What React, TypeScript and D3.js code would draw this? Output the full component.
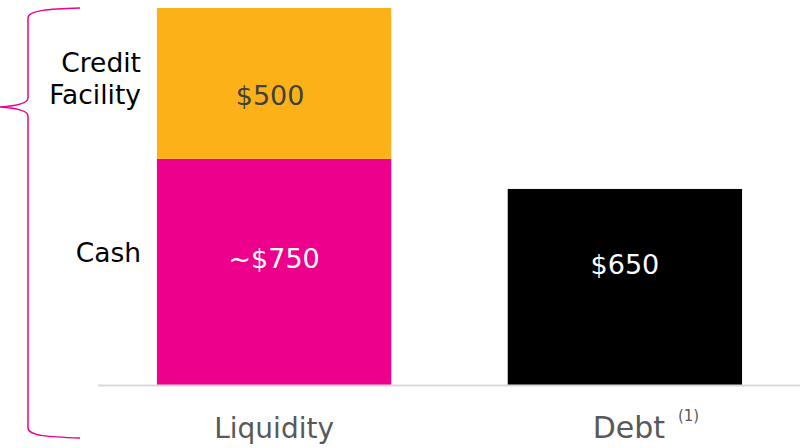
import React from "react";
import * as d3 from "d3";

const categories = ["Liquidity", "Debt"];
const cashValues = [750, 0];
const creditValues = [500, 0];
const debtValues = [0, 650];
const valueLabels = ["$500", "~$750", "$650"];
const rowLabels = ["Credit", "Facility", "Cash"];

const W = 810;
const H = 448;
const FONT = "'DejaVu Sans', sans-serif";
const PINK = "#EC008C";
const ORANGE = "#FDB118";

export default function App() {
  const x = d3
    .scaleBand<string>()
    .domain(categories)
    .range([98, 801])
    .paddingInner(0.332)
    .paddingOuter(0.168);
  const y = d3.scaleLinear().domain([0, 1250]).range([385, 8]);
  const bw = x.bandwidth();

  const liq = categories[0];
  const debt = categories[1];
  const cash = cashValues[0];
  const credit = creditValues[0];
  const dv = debtValues[1];

  const yTop = y(cash + credit);
  const yMid = y(cash);
  const yBase = y(0);

  const bracePath = `M80,${yTop} C50,${yTop + 1} 28,${yTop + 2} 28,${yTop + 10} L28,${yTop + 90} C28,${yTop + 96} 15,${yTop + 98} 0,${yTop + 99} C15,${yTop + 100} 28,${yTop + 102} 28,${yTop + 108} L28,${yBase + 43} C28,${yBase + 51} 50,${yBase + 52} 80,${yBase + 53}`;

  const lcx = (x(liq) as number) + bw / 2;
  const dcx = (x(debt) as number) + bw / 2;

  return (
    <svg
      width={W}
      height={H}
      style={{ position: "absolute", left: 0, top: 0, background: "#fff" }}
      fontFamily={FONT}
    >
      <path d={bracePath} fill="none" stroke={PINK} strokeWidth={1.5} />
      {/* bars */}
      <rect x={x(liq)} y={yMid} width={bw} height={yBase - yMid} fill={PINK} />
      <rect x={x(liq)} y={yTop} width={bw} height={yMid - yTop} fill={ORANGE} />
      <rect x={x(debt)} y={y(dv)} width={bw} height={yBase - y(dv)} fill="#000" />
      {/* baseline */}
      <line x1={98} x2={800} y1={yBase + 0.5} y2={yBase + 0.5} stroke="#d9d9d9" strokeWidth={2} />
      {/* value labels */}
      <text x={lcx - 4} y={(yTop + yMid) / 2 + 22} textAnchor="middle" fontSize={27} fill="#404040">
        {valueLabels[0]}
      </text>
      <text x={lcx} y={(yMid + yBase) / 2 - 4} textAnchor="middle" fontSize={27} fill="#fff">
        {valueLabels[1]}
      </text>
      <text x={dcx} y={(y(dv) + yBase) / 2 - 13} textAnchor="middle" fontSize={27} fill="#fff">
        {valueLabels[2]}
      </text>
      {/* row labels */}
      <text x={141} y={(yTop + yMid) / 2 - 11} textAnchor="end" fontSize={26.5} fill="#000">
        {rowLabels[0]}
      </text>
      <text x={141} y={(yTop + yMid) / 2 + 21} textAnchor="end" fontSize={26.5} fill="#000">
        {rowLabels[1]}
      </text>
      <text x={141} y={(yMid + yBase) / 2 - 10} textAnchor="end" fontSize={26.5} fill="#000">
        {rowLabels[2]}
      </text>
      {/* category labels */}
      <text x={lcx} y={yBase + 53} textAnchor="middle" fontSize={28} fill="#595959">
        {categories[0]}
      </text>
      <text x={dcx + 4} y={yBase + 53} textAnchor="middle" fontSize={30} fill="#595959">
        {categories[1]}
      </text>
      <text x={dcx + 53} y={yBase + 36} textAnchor="start" fontSize={15} fill="#595959">
        (1)
      </text>
    </svg>
  );
}
